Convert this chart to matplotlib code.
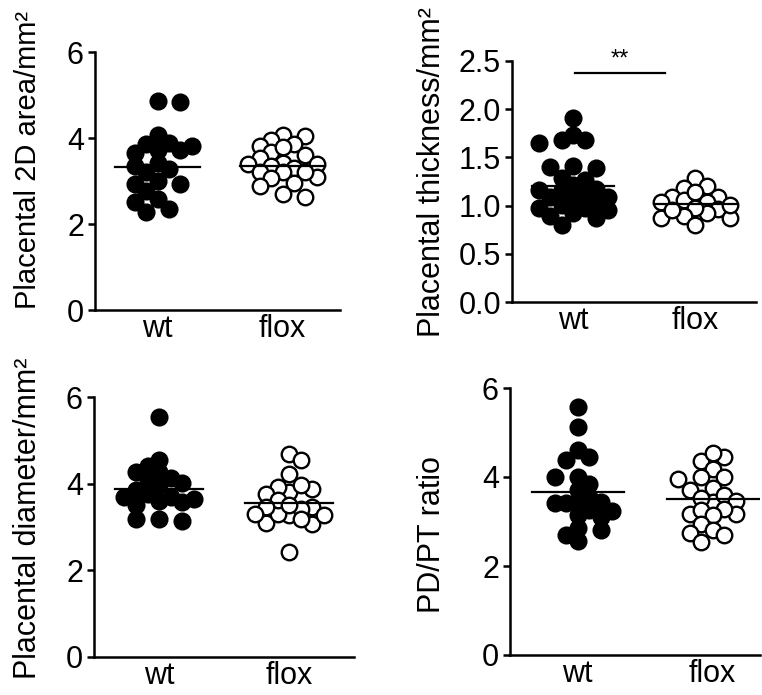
import numpy as np
import matplotlib
matplotlib.use('Agg')
import matplotlib.pyplot as plt

plt.rcParams['font.family'] = ['Liberation Sans', 'DejaVu Sans']

groups = ['wt', 'flox']

# Placental 2D area/mm2
area_wt = [4.83, 4.87, 4.07, 3.86, 3.82, 3.89, 3.71, 3.64, 3.71, 3.42, 3.28,
           3.35, 3.21, 2.92, 2.99, 2.77, 2.92, 2.59, 2.52, 2.27, 2.34]
area_flox = [4.04, 4.07, 3.86, 3.96, 3.82, 3.68, 3.78, 3.53, 3.60, 3.39, 3.42,
             3.35, 3.31, 3.39, 3.10, 3.21, 3.21, 3.21, 3.06, 2.88, 2.95, 2.63, 2.70]
area_mean = [3.33, 3.36]

# Placental thickness/mm2
thick_wt = [1.91, 1.68, 1.73, 1.65, 1.68, 1.39, 1.41, 1.40, 1.29, 1.27, 1.16,
            1.17, 1.21, 1.09, 1.16, 1.13, 1.09, 0.97, 0.95, 1.01, 0.89, 0.92,
            0.97, 0.87, 0.80, 1.03, 1.06]
thick_flox = [1.29, 1.20, 1.18, 1.09, 1.04, 1.06, 1.09, 1.14, 1.04, 0.96, 0.87,
              0.92, 0.97, 0.89, 0.87, 1.01, 0.95, 0.80]
thick_mean = [1.20, 1.02]

# Placental diameter/mm2
diam_wt = [5.55, 4.40, 4.55, 4.27, 4.27, 4.12, 4.02, 4.08, 3.96, 3.85, 3.65,
           3.69, 3.58, 3.69, 3.50, 3.77, 3.60, 3.19, 3.15, 3.19]
diam_flox = [4.69, 4.55, 4.22, 3.81, 3.92, 3.88, 3.77, 3.98, 3.27, 3.46, 3.09,
             3.31, 3.62, 3.42, 3.46, 3.08, 3.27, 3.19, 3.50, 3.31, 2.42]
diam_mean = [3.88, 3.56]

# PD/PT ratio
ratio_wt = [5.57, 5.12, 4.60, 4.44, 4.39, 4.01, 4.01, 3.85, 3.71, 3.43, 3.41,
            3.56, 3.26, 3.11, 3.15, 3.41, 3.23, 3.43, 2.81, 2.85, 2.70, 2.57]
ratio_flox = [4.44, 4.37, 4.54, 4.18, 4.01, 4.01, 3.95, 3.70, 3.75, 3.43, 3.53,
              3.60, 3.47, 3.17, 3.26, 3.17, 3.28, 3.15, 2.95, 2.75, 2.81, 2.70, 2.55]
ratio_mean = [3.66, 3.51]

W, H = 762, 695
fig = plt.figure(figsize=(W / 100, H / 100), dpi=100)


def add_panel(left, right, bottom, top, ylim, yticks, xmax):
    ax = fig.add_axes([left / W, 1 - bottom / H, (right - left) / W, (bottom - top) / H])
    ax.set_xlim(0.5, xmax)
    ax.set_ylim(*ylim)
    ax.set_yticks(yticks)
    ax.set_xticks([1, 2])
    ax.set_xticklabels(groups)
    for s in ['top', 'right']:
        ax.spines[s].set_visible(False)
    for s in ['left', 'bottom']:
        ax.spines[s].set_linewidth(1.8)
    ax.tick_params(axis='y', width=1.8, length=5, labelsize=22, pad=3)
    ax.tick_params(axis='x', length=0, labelsize=22, pad=3)
    return ax


def swarm(ax, x0, vals, step=11.5, mind=12.0, maxcol=3):
    # beeswarm in pixel space, offsets capped at +-maxcol columns
    order = np.argsort(vals)[::-1]
    placed = []
    xs = np.zeros(len(vals))
    for j, i in enumerate(order):
        px, py = ax.transData.transform((x0, vals[i]))
        side = 1 if j % 2 else -1
        best, best_d = 0.0, -1.0
        for k in range(0, 2 * maxcol + 1):
            off = ((k + 1) // 2) * step * (side if k % 2 else -side)
            d = min([np.hypot(px + off - qx, py - qy) for qx, qy in placed] or [99.0])
            if d >= mind:
                best = off
                break
            if d > best_d + 2:
                best, best_d = off, d
        placed.append((px + best, py))
        xs[i] = ax.transData.inverted().transform((px + best, py))[0]
    return xs


def draw(ax, wt, flox, means):
    xw = swarm(ax, 1, wt)
    xf = swarm(ax, 2, flox)
    ax.scatter(xw, wt, s=140, c='black', edgecolors='black', linewidths=1.2, zorder=3, clip_on=False)
    ax.scatter(xf, flox, s=125, c='white', edgecolors='black', linewidths=1.7, zorder=3, clip_on=False)
    for x, m in zip([1, 2], means):
        ax.plot([x - 0.34, x + 0.34], [m, m], color='black', lw=1.6, zorder=4)


ax1 = add_panel(95, 340, 310, 52, (0, 6), [0, 2, 4, 6], 2.46)
draw(ax1, area_wt, area_flox, area_mean)

ax2 = add_panel(512, 756, 302, 61, (0, 2.5), [0, 0.5, 1.0, 1.5, 2.0, 2.5], 2.5)
ax2.set_yticklabels(['0.0', '0.5', '1.0', '1.5', '2.0', '2.5'])
draw(ax2, thick_wt, thick_flox, thick_mean)
ax2.plot([1.02, 1.75], [2.38, 2.38], color='black', lw=1.6)
ax2.text(1.385, 2.40, '**', ha='center', va='bottom', fontsize=17)

ax3 = add_panel(94, 354, 657, 397, (0, 6), [0, 2, 4, 6], 2.5)
draw(ax3, diam_wt, diam_flox, diam_mean)

ax4 = add_panel(510, 760, 655, 388, (0, 6), [0, 2, 4, 6], 2.35)
draw(ax4, ratio_wt, ratio_flox, ratio_mean)

fig.text(28 / W, 1 - 160 / H, 'Placental 2D area/mm²', rotation=90, ha='center', va='center', fontsize=21)
fig.text(432 / W, 1 - 172 / H, 'Placental thickness/mm²', rotation=90, ha='center', va='center', fontsize=22)
fig.text(28 / W, 1 - 518 / H, 'Placental diameter/mm²', rotation=90, ha='center', va='center', fontsize=22)
fig.text(432 / W, 1 - 535 / H, 'PD/PT ratio', rotation=90, ha='center', va='center', fontsize=22)

fig.savefig('out.png', dpi=100)
